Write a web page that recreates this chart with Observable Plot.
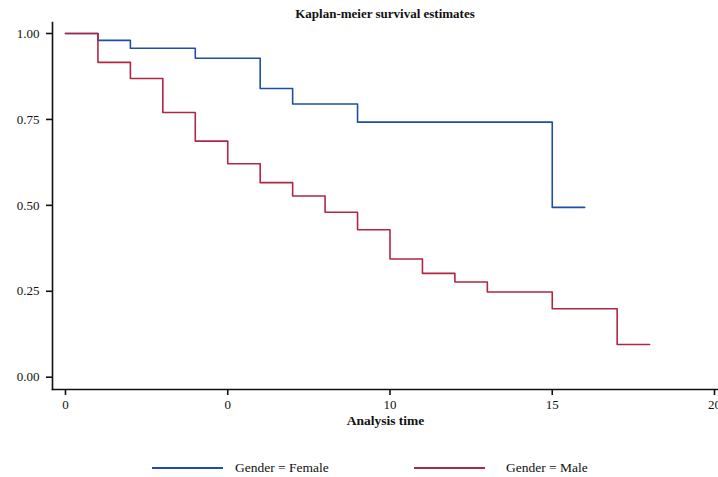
<!DOCTYPE html>
<html>
<head>
<meta charset="utf-8">
<script src="https://cdn.jsdelivr.net/npm/d3@7"></script>
<script src="https://cdn.jsdelivr.net/npm/@observablehq/plot@0.6"></script>
<style>
  html, body { margin: 0; padding: 0; background: #fff; }
  #wrap { position: relative; width: 718px; height: 477px; font-family: "Liberation Serif", serif; color: #111; }
  #title { position: absolute; left: 52px; width: 666px; top: 5px; text-align: center; font-weight: bold; font-size: 13px; line-height: 18px; }
  #legend { position: absolute; left: 0; top: 458px; width: 718px; height: 20px; font-size: 13.5px; }
  .lg-line { position: absolute; top: 9px; height: 2px; }
  .lg-text { position: absolute; top: 0; line-height: 20px; }
</style>
</head>
<body>
<div id="wrap">
  <div id="chart"></div>
  <div id="title"></div>
  <div id="legend"></div>
</div>
<script>
const title = "Kaplan-meier survival estimates";
const xLabel = "Analysis time";
const seriesNames = ["Gender = Female", "Gender = Male"];
const seriesColors = ["#1f4ea8", "#b02744"];

const femaleTime = [0, 1, 2, 4, 6, 7, 9, 15, 16];
const femaleSurv = [1.0, 0.980, 0.957, 0.928, 0.840, 0.795, 0.742, 0.494, 0.494];

const maleTime = [0, 1, 2, 3, 4, 5, 6, 7, 8, 9, 10, 11, 12, 13, 15, 17, 18];
const maleSurv = [1.0, 0.916, 0.869, 0.770, 0.687, 0.621, 0.566, 0.527, 0.480, 0.429, 0.344, 0.302, 0.277, 0.248, 0.199, 0.095, 0.095];

const xTicks = [0, 5, 10, 15, 20];
const xTickLabels = ["0", "0", "10", "15", "20"];
const yTicks = [0, 0.25, 0.5, 0.75, 1];
const yTickLabels = ["0.00", "0.25", "0.50", "0.75", "1.00"];

const female = femaleTime.map((t, i) => ({t, s: femaleSurv[i], g: seriesNames[0]}));
const male = maleTime.map((t, i) => ({t, s: maleSurv[i], g: seriesNames[1]}));

const chart = Plot.plot({
  width: 718,
  height: 445,
  marginTop: 22,
  marginBottom: 56,
  marginLeft: 52,
  marginRight: 0,
  style: { fontFamily: "Liberation Serif, serif", fontSize: "13px", color: "#111", background: "#fff" },
  x: { domain: [-0.4, 20.123], label: null },
  y: { domain: [-0.0358, 1.032], label: null },
  marks: [
    Plot.axisY({ ticks: yTicks, tickFormat: d => yTickLabels[yTicks.indexOf(d)], tickSize: 6, tickPadding: 7, strokeWidth: 1.6, label: null, fontSize: 13 }),
    Plot.axisX({ ticks: xTicks, tickFormat: d => xTickLabels[xTicks.indexOf(d)], tickSize: 6, tickPadding: 4, strokeWidth: 1.6, label: null, fontSize: 13 }),
    Plot.frame({ anchor: "left", stroke: "#111", strokeWidth: 1.6 }),
    Plot.frame({ anchor: "bottom", stroke: "#111", strokeWidth: 1.6 }),
    Plot.line(female, { x: "t", y: "s", curve: "step-after", stroke: seriesColors[0], strokeWidth: 1.6 }),
    Plot.line(male, { x: "t", y: "s", curve: "step-after", stroke: seriesColors[1], strokeWidth: 1.6 }),
    Plot.text([xLabel], { frameAnchor: "bottom", dy: 35, text: d => d, fontWeight: "bold", fontSize: 13.5 })
  ]
});
document.getElementById("chart").appendChild(chart);
document.getElementById("title").textContent = title;

const legend = document.getElementById("legend");
const lgPos = [{line: [152, 223], text: 235}, {line: [414, 485], text: 506}];
seriesNames.forEach((name, i) => {
  const ln = document.createElement("div");
  ln.className = "lg-line";
  ln.style.left = lgPos[i].line[0] + "px";
  ln.style.width = (lgPos[i].line[1] - lgPos[i].line[0]) + "px";
  ln.style.background = seriesColors[i];
  legend.appendChild(ln);
  const tx = document.createElement("div");
  tx.className = "lg-text";
  tx.style.left = lgPos[i].text + "px";
  tx.textContent = name;
  legend.appendChild(tx);
});
</script>
</body>
</html>
